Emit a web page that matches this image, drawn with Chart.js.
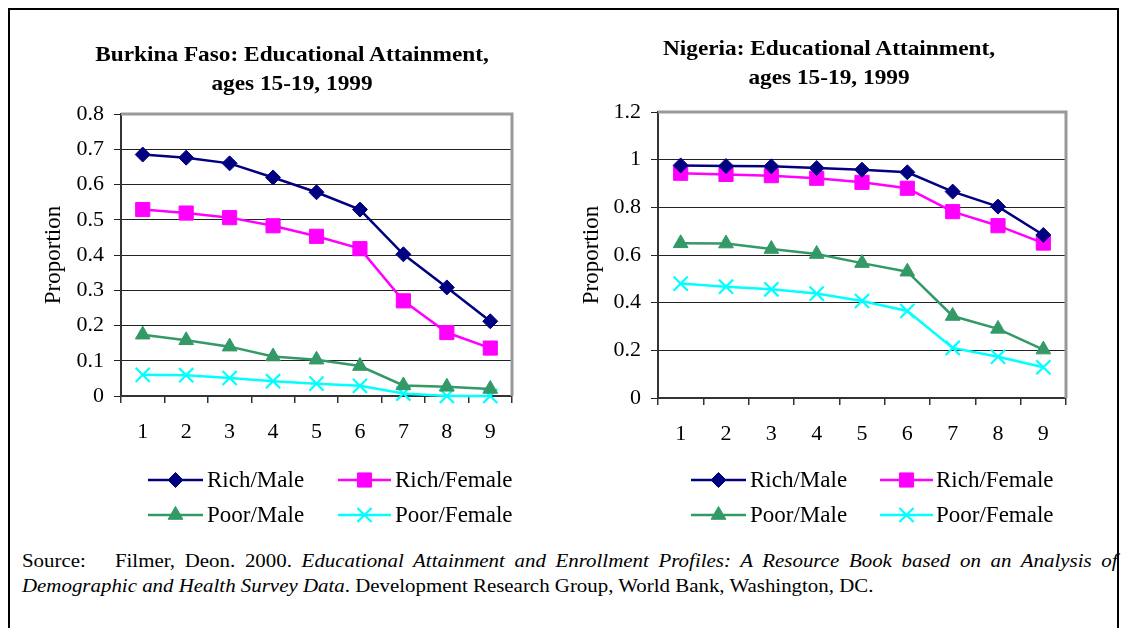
<!DOCTYPE html>
<html>
<head>
<meta charset="utf-8">
<script src="https://cdn.jsdelivr.net/npm/chart.js@4.4.1/dist/chart.umd.min.js"></script>
<style>
  body { margin: 0; background: #fff; font-family: "Liberation Serif", "Times New Roman", serif; }
  #page { position: relative; width: 1125px; height: 628px; overflow: hidden; }
  #frame { position: absolute; left: 8px; top: 8px; width: 1107px; height: 700px;
           border-left: 2px solid #000; border-top: 2px solid #000; border-right: 2px solid #000; }
  .ttl { position: absolute; font-weight: bold; font-size: 21px; text-align: center; line-height: 29px; color: #000;
         transform: scaleX(1.11); }
  canvas { position: absolute; top: 0; }
  #src { position: absolute; left: 22px; top: 548px; width: 996px; font-size: 19px; line-height: 25px;
         text-align: justify; color: #000; transform: scaleX(1.1); transform-origin: 0 0; }
</style>
</head>
<body>
<div id="page">
  <div id="frame"></div>
  <canvas id="bf" width="562" height="540" style="left:0;width:562px;height:540px"></canvas>
  <canvas id="ng" width="563" height="540" style="left:562px;width:563px;height:540px"></canvas>
  <div class="ttl" style="left:0;top:40px;width:584px">Burkina Faso: Educational Attainment,<br>ages 15-19, 1999</div>
  <div class="ttl" style="left:629px;top:34px;width:400px">Nigeria: Educational Attainment,<br>ages 15-19, 1999</div>
  <div id="src">Source:&nbsp;&nbsp; Filmer, Deon. 2000. <i>Educational Attainment and Enrollment Profiles: A Resource Book based on an Analysis of Demographic and Health Survey Data</i>. Development Research Group, World Bank, Washington, DC.</div>
</div>
<script>
// data
const ages = ['1', '2', '3', '4', '5', '6', '7', '8', '9'];
const seriesNames = ['Rich/Male', 'Rich/Female', 'Poor/Male', 'Poor/Female'];

const bfRichMale = [0.685, 0.676, 0.660, 0.620, 0.578, 0.529, 0.402, 0.308, 0.212];
const bfRichFemale = [0.529, 0.519, 0.506, 0.483, 0.453, 0.418, 0.270, 0.180, 0.136];
const bfPoorMale = [0.174, 0.158, 0.140, 0.112, 0.103, 0.085, 0.030, 0.026, 0.020];
const bfPoorFemale = [0.060, 0.059, 0.051, 0.042, 0.035, 0.029, 0.007, 0.000, 0.000];

const ngRichMale = [0.976, 0.973, 0.972, 0.965, 0.958, 0.947, 0.866, 0.803, 0.684];
const ngRichFemale = [0.943, 0.938, 0.933, 0.922, 0.905, 0.880, 0.782, 0.723, 0.650];
const ngPoorMale = [0.649, 0.648, 0.625, 0.604, 0.566, 0.530, 0.344, 0.290, 0.203];
const ngPoorFemale = [0.480, 0.467, 0.456, 0.438, 0.407, 0.365, 0.210, 0.173, 0.129];

// styles
const colors = ['#000080', '#FF00FF', '#339966', '#00FFFF'];
const markers = ['rectRot', 'rect', 'triangle', 'crossRot'];
const radii = [7.5, 10, 8.5, 10];
const FONT = '"Liberation Serif", "Times New Roman", serif';

function makeSets(vals) {
  return vals.map((v, i) => ({
    label: seriesNames[i],
    data: v,
    borderColor: colors[i],
    backgroundColor: colors[i],
    borderWidth: 2.5,
    pointStyle: markers[i],
    pointRadius: radii[i],
    pointHoverRadius: radii[i],
    pointBorderWidth: i === 3 ? 2.2 : 1,
    tension: 0,
    clip: false
  }));
}

// gray plot border on top and right
const plotBorder = {
  id: 'plotBorder',
  beforeDatasetsDraw(chart) {
    const a = chart.chartArea, ctx = chart.ctx;
    ctx.save();
    ctx.strokeStyle = '#999';
    ctx.lineWidth = 3;
    ctx.beginPath();
    ctx.moveTo(a.left, a.top);
    ctx.lineTo(a.right, a.top);
    ctx.lineTo(a.right, a.bottom);
    ctx.stroke();
    ctx.restore();
  }
};

// legend with line + marker
const lineLegend = {
  id: 'lineLegend',
  afterDraw(chart, args, opts) {
    const ctx = chart.ctx;
    ctx.save();
    chart.data.datasets.forEach((ds, i) => {
      const col = opts.cols[i % 2], y = opts.rows[Math.floor(i / 2)];
      ctx.strokeStyle = ds.borderColor;
      ctx.lineWidth = 2.5;
      ctx.beginPath();
      ctx.moveTo(col.x1, y);
      ctx.lineTo(col.x2, y);
      ctx.stroke();
      ctx.fillStyle = ds.backgroundColor;
      ctx.lineWidth = ds.pointBorderWidth;
      Chart.helpers.drawPoint(ctx, { pointStyle: ds.pointStyle, radius: ds.pointRadius, rotation: 0, borderWidth: ds.pointBorderWidth }, (col.x1 + col.x2) / 2, y);
      ctx.fillStyle = '#000';
      ctx.font = '23px ' + FONT;
      ctx.textBaseline = 'middle';
      ctx.fillText(ds.label, col.tx, y + 1);
    });
    ctx.restore();
  }
};

const fmtTick = v => String(Math.round(v * 10) / 10);

function makeChart(id, vals, yMax, step, pad, yWidth, xHeight, titlePad, cols) {
  return new Chart(document.getElementById(id), {
    type: 'line',
    data: { labels: ages, datasets: makeSets(vals) },
    options: {
      responsive: false,
      animation: false,
      layout: { padding: pad },
      plugins: {
        legend: { display: false },
        tooltip: { enabled: false },
        lineLegend: { cols: cols, rows: [480, 515] }
      },
      scales: {
        x: {
          offset: true,
          grid: { offset: true, drawOnChartArea: false, drawTicks: true, tickLength: 7, color: '#333', lineWidth: 1.5 },
          border: { color: '#333', width: 2 },
          ticks: { color: '#000', font: { family: FONT, size: 22 }, padding: 16, maxRotation: 0 },
          afterFit: s => { s.height = xHeight; }
        },
        y: {
          min: 0, max: yMax,
          ticks: { stepSize: step, color: '#000', font: { family: FONT, size: 22 }, padding: 10, callback: fmtTick },
          grid: { color: '#222', lineWidth: 1, tickLength: 7 },
          border: { color: '#333', width: 2 },
          title: { display: true, text: 'Proportion', color: '#000', font: { family: FONT, size: 23 }, padding: { top: titlePad, bottom: 0 } },
          afterFit: s => { s.width = yWidth; }
        }
      }
    },
    plugins: [plotBorder, lineLegend]
  });
}

makeChart('bf', [bfRichMale, bfRichFemale, bfPoorMale, bfPoorFemale], 0.8, 0.1,
  { left: 0, top: 114, right: 50, bottom: 0 }, 121, 144, 40,
  [{ x1: 148, x2: 203, tx: 207 }, { x1: 338, x2: 391, tx: 395 }]);

makeChart('ng', [ngRichMale, ngRichFemale, ngPoorMale, ngPoorFemale], 1.2, 0.2,
  { left: 0, top: 112, right: 59, bottom: 0 }, 96, 142, 16,
  [{ x1: 129, x2: 184, tx: 188 }, { x1: 318, x2: 371, tx: 374 }]);
</script>
</body>
</html>
